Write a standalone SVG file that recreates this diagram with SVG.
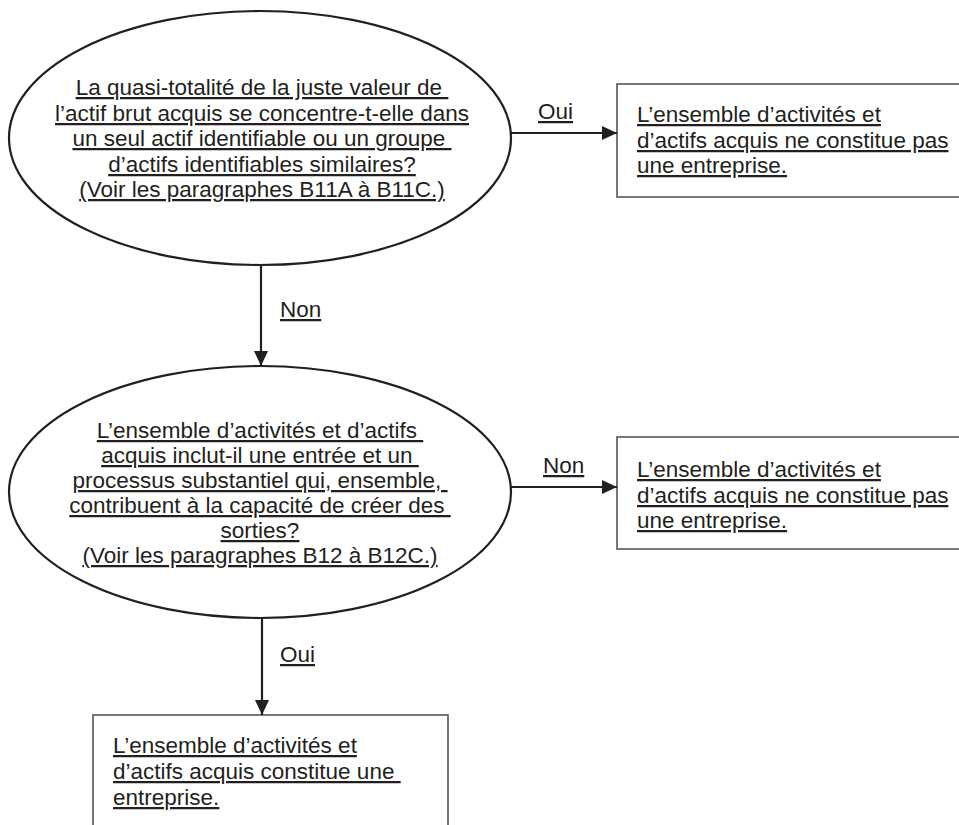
<svg xmlns="http://www.w3.org/2000/svg" width="959" height="825" viewBox="0 0 959 825">
<style>
text{font-family:"Liberation Sans",Arial,Helvetica,sans-serif;font-size:22.5px;fill:#231f20;text-decoration:underline;white-space:pre}
.c{text-anchor:middle}
.ell{fill:none;stroke:#231f20;stroke-width:2.2}
.box{fill:none;stroke:#555;stroke-width:1.6}
.con{fill:none;stroke:#231f20;stroke-width:2.2}
</style>
<defs>
<marker id="ah" markerWidth="16" markerHeight="14" refX="15" refY="7" orient="auto" markerUnits="userSpaceOnUse">
<path d="M0,0 L15,7 L0,14 Z" fill="#231f20"/>
</marker>
</defs>
<rect width="959" height="825" fill="#fff"/>
<g id="q1">
<ellipse class="ell" cx="260" cy="138" rx="251" ry="127"/>
<text class="c" x="262" y="95">La quasi-totalité de la juste valeur de </text>
<text class="c" x="262" y="121">l’actif brut acquis se concentre-t-elle dans</text>
<text class="c" x="262" y="146">un seul actif identifiable ou un groupe </text>
<text class="c" x="262" y="172">d’actifs identifiables similaires?</text>
<text class="c" x="262" y="197">(Voir les paragraphes B11A à B11C.)</text>
</g>
<g id="r1">
<rect class="box" x="617" y="84" width="400" height="113"/>
<text x="637" y="122">L’ensemble d’activités et</text>
<text x="637" y="148">d’actifs acquis ne constitue pas</text>
<text x="637" y="173">une entreprise.</text>
</g>
<g id="q2">
<ellipse class="ell" cx="260" cy="492" rx="251" ry="126"/>
<text class="c" x="260" y="438">L’ensemble d’activités et d’actifs </text>
<text class="c" x="260" y="463">acquis inclut-il une entrée et un </text>
<text class="c" x="260" y="488">processus substantiel qui, ensemble, </text>
<text class="c" x="260" y="513">contribuent à la capacité de créer des </text>
<text class="c" x="260" y="538">sorties?</text>
<text class="c" x="260" y="563">(Voir les paragraphes B12 à B12C.)</text>
</g>
<g id="r2">
<rect class="box" x="617" y="437" width="400" height="112"/>
<text x="637" y="477">L’ensemble d’activités et</text>
<text x="637" y="503">d’actifs acquis ne constitue pas</text>
<text x="637" y="528">une entreprise.</text>
</g>
<g id="r3">
<rect class="box" x="93" y="715" width="355" height="140"/>
<text x="113" y="753">L’ensemble d’activités et</text>
<text x="113" y="779">d’actifs acquis constitue une </text>
<text x="113" y="805">entreprise.</text>
</g>
<g id="connectors">
<line class="con" x1="511" y1="133" x2="617" y2="133" marker-end="url(#ah)"/>
<text x="538" y="119">Oui</text>
<line class="con" x1="261" y1="265" x2="261" y2="366" marker-end="url(#ah)"/>
<text x="280" y="317">Non</text>
<line class="con" x1="511" y1="487" x2="617" y2="487" marker-end="url(#ah)"/>
<text x="543" y="473">Non</text>
<line class="con" x1="262" y1="618" x2="262" y2="715" marker-end="url(#ah)"/>
<text x="280" y="662">Oui</text>
</g>
</svg>
